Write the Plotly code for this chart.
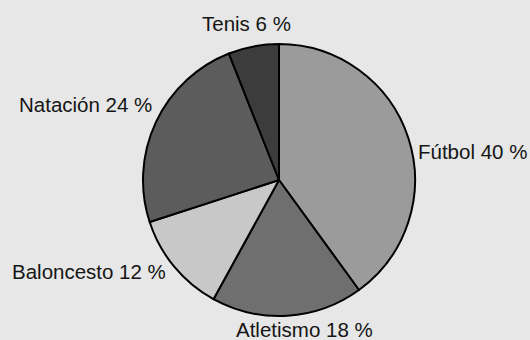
import plotly.graph_objects as go

labels = ["Fútbol", "Atletismo", "Baloncesto", "Natación", "Tenis"]
values = [40, 18, 12, 24, 6]
colors = ["#9b9b9b", "#6f6f6f", "#c8c8c8", "#5c5c5c", "#3c3c3c"]

# label placement (paper coordinates of the pie domain) - layout only
label_pos = {
    "Fútbol": (1.003, 0.603, "left"),
    "Atletismo": (0.592, -0.051, "center"),
    "Baloncesto": (0.092, 0.165, "right"),
    "Natación": (0.040, 0.779, "right"),
    "Tenis": (0.379, 1.077, "center"),
}

fig = go.Figure(go.Pie(
    labels=labels,
    values=values,
    sort=False,
    direction="clockwise",
    rotation=0,
    marker=dict(colors=colors, line=dict(color="#000000", width=2)),
    textinfo="none",
    showlegend=False,
    hoverinfo="skip",
))

for lab, val in zip(labels, values):
    x, y, anc = label_pos[lab]
    fig.add_annotation(
        x=x, y=y, xref="paper", yref="paper",
        xanchor=anc, yanchor="middle",
        text=f"{lab} {val} %", showarrow=False,
        font=dict(family="Liberation Sans, Arial, sans-serif", size=20.5, color="#151515"),
    )

fig.update_layout(
    width=530, height=340,
    margin=dict(l=143, r=115, t=44, b=24),
    paper_bgcolor="#e6e7e6",
    plot_bgcolor="#e6e7e6",
)

fig.write_html("out.html")
